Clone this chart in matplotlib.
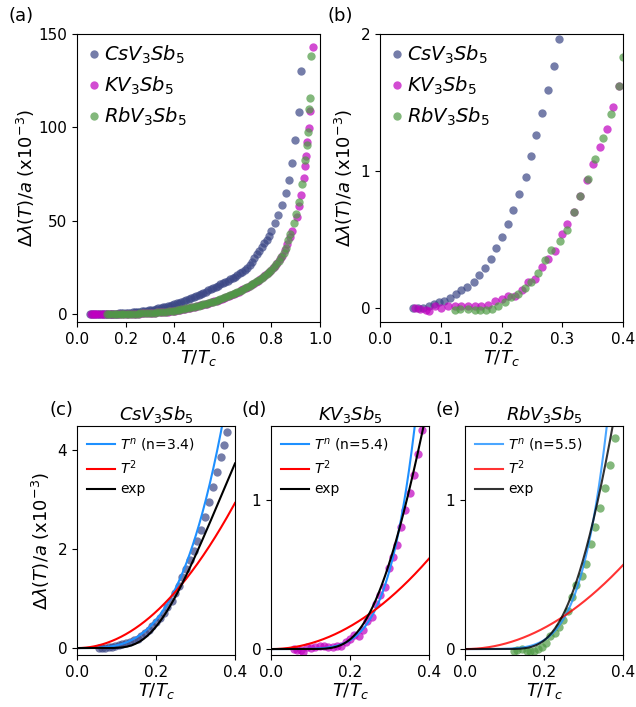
import numpy as np
import matplotlib
matplotlib.use('Agg')
import matplotlib.pyplot as plt

# ---- data (T/Tc, dlambda/a in units of 1e-3) ----
cs_t = [0.055, 0.063, 0.071, 0.081, 0.089, 0.097, 0.106, 0.115, 0.125, 0.134,
        0.144, 0.154, 0.163, 0.173, 0.182, 0.191, 0.201, 0.211, 0.219, 0.229,
        0.240, 0.248, 0.257, 0.267, 0.277, 0.287, 0.295,
        0.305, 0.315, 0.325, 0.335, 0.345, 0.355, 0.364, 0.373, 0.381, 0.39,
        0.40, 0.41, 0.42, 0.43, 0.44, 0.45, 0.46, 0.47, 0.48, 0.49,
        0.50, 0.51, 0.52, 0.53, 0.54, 0.55, 0.56, 0.57, 0.58, 0.59,
        0.60, 0.61, 0.62, 0.63, 0.64, 0.65, 0.66, 0.67, 0.68, 0.69,
        0.70, 0.71, 0.72, 0.73, 0.74, 0.75, 0.76, 0.77, 0.78, 0.79,
        0.80, 0.815, 0.828, 0.843, 0.859, 0.874, 0.884, 0.897, 0.914, 0.922]
cs_d = [0.0, 0.0, 0.005, 0.014, 0.029, 0.046, 0.054, 0.075, 0.102, 0.131,
        0.155, 0.19, 0.24, 0.296, 0.363, 0.443, 0.523, 0.611, 0.715, 0.832,
        0.958, 1.11, 1.26, 1.426, 1.59, 1.77, 1.96,
        2.15, 2.38, 2.65, 2.95, 3.25, 3.55, 3.85, 4.1, 4.36, 4.75,
        5.2, 5.65, 6.1, 6.6, 7.1, 7.6, 8.1, 8.6, 9.1, 9.7,
        10.3, 10.8, 11.4, 12.0, 12.6, 13.2, 13.8, 14.5, 15.1, 15.8,
        16.5, 17.2, 17.9, 18.6, 19.3, 20.0, 20.9, 21.8, 22.6, 23.5,
        24.5, 26.2, 28.1, 30.0, 32.0, 33.7, 35.9, 38.2, 39.8, 41.9,
        44.5, 48.7, 53.0, 58.4, 65.0, 72.0, 81.0, 93.0, 108.0, 130.0]

k_t = [0.057, 0.066, 0.075, 0.080, 0.091, 0.101, 0.112, 0.123, 0.134, 0.145,
       0.156, 0.167, 0.178, 0.189, 0.200, 0.211, 0.222, 0.233, 0.244, 0.255,
       0.266, 0.277, 0.288, 0.299, 0.308, 0.319, 0.330, 0.340, 0.351, 0.362,
       0.373, 0.383, 0.394,
       0.405, 0.415, 0.425, 0.435, 0.445, 0.455, 0.465, 0.475, 0.485, 0.495,
       0.505, 0.515, 0.525, 0.535, 0.545, 0.555, 0.565, 0.575, 0.585, 0.595,
       0.605, 0.615, 0.625, 0.635, 0.645, 0.655, 0.665, 0.675, 0.685, 0.695,
       0.705, 0.715, 0.725, 0.735, 0.745, 0.755, 0.765, 0.775, 0.785, 0.795,
       0.805, 0.815, 0.825, 0.835, 0.845, 0.855, 0.865, 0.875,
       0.886, 0.904, 0.915, 0.923, 0.934, 0.940, 0.942, 0.948, 0.953, 0.959, 0.970]
k_d = [0.0, -0.007, -0.009, -0.019, 0.015, 0.005, 0.015, 0.019, 0.019, 0.015,
       0.015, 0.019, 0.022, 0.05, 0.065, 0.093, 0.088, 0.131, 0.192, 0.217,
       0.302, 0.363, 0.418, 0.545, 0.618, 0.703, 0.818, 0.934, 1.049, 1.173,
       1.309, 1.47, 1.62,
       1.85, 2.1, 2.35, 2.6, 2.85, 3.1, 3.4, 3.7, 4.0, 4.3,
       4.6, 4.9, 5.25, 5.6, 6.0, 6.4, 6.8, 7.2, 7.7, 8.2,
       8.7, 9.2, 9.7, 10.2, 10.8, 11.4, 12.0, 12.7, 13.3, 14.0,
       14.7, 15.4, 16.2, 17.0, 17.9, 18.8, 19.8, 20.8, 21.9, 23.1,
       24.4, 25.8, 27.4, 29.2, 31.3, 34.5, 37.5, 41.0,
       44.2, 52.2, 58.0, 63.5, 72.6, 79.5, 84.6, 92.2, 99.5, 108.8, 142.9]

rb_t = [0.123, 0.132, 0.145, 0.156, 0.165, 0.175, 0.184, 0.195, 0.205, 0.215,
        0.227, 0.238, 0.249, 0.260, 0.271, 0.282, 0.296, 0.307, 0.319, 0.330,
        0.343, 0.354, 0.367, 0.380, 0.393, 0.400,
        0.41, 0.42, 0.43, 0.44, 0.45, 0.46, 0.47, 0.48, 0.49, 0.50,
        0.51, 0.52, 0.53, 0.54, 0.55, 0.56, 0.57, 0.58, 0.59, 0.60,
        0.61, 0.62, 0.63, 0.64, 0.65, 0.66, 0.67, 0.68, 0.69, 0.70,
        0.71, 0.72, 0.73, 0.74, 0.75, 0.76, 0.77, 0.78, 0.79, 0.80,
        0.81, 0.82, 0.83, 0.84, 0.85, 0.86, 0.87,
        0.877, 0.894, 0.901, 0.912, 0.926, 0.938, 0.948, 0.951, 0.955, 0.959, 0.965]
rb_d = [-0.01, -0.007, -0.002, -0.012, -0.01, -0.012, -0.002, 0.017, 0.043, 0.085,
        0.105, 0.15, 0.195, 0.255, 0.352, 0.428, 0.488, 0.572, 0.705, 0.818,
        0.946, 1.085, 1.24, 1.418, 1.618, 1.83,
        2.0, 2.25, 2.5, 2.75, 3.0, 3.3, 3.6, 3.9, 4.2, 4.5,
        4.8, 5.1, 5.45, 5.8, 6.2, 6.6, 7.0, 7.5, 8.0, 8.5,
        9.0, 9.5, 10.0, 10.5, 11.1, 11.7, 12.4, 13.0, 13.7, 14.4,
        15.1, 15.8, 16.6, 17.5, 18.4, 19.3, 20.3, 21.4, 22.5, 23.8,
        25.1, 26.6, 28.3, 30.3, 32.5, 35.5, 39.5,
        42.9, 48.6, 53.6, 60.2, 69.8, 82.3, 90.5, 97.7, 109.6, 115.5, 138.4]

names = [r'$CsV_3Sb_5$', r'$KV_3Sb_5$', r'$RbV_3Sb_5$']
colors = ['#3a4685', '#c000c0', '#4f9a45']

# fit parameters per compound: power law (A, n), T^2 prefactor, exp (C, gap)
pow_A = [135.0, 352.0, 420.0]
pow_n = [3.4, 5.4, 5.5]
sq_B = [18.3, 3.8, 3.53]
exp_C = [28.7, 32.3, 44.8]
exp_D = [1.0, 1.44, 1.534]

series = [(cs_t, cs_d), (k_t, k_d), (rb_t, rb_d)]

fig = plt.figure(figsize=(6.36, 7.07), dpi=100)
W, H = 636.0, 707.0

def box(l, t, r, b):
    return [l / W, 1 - b / H, (r - l) / W, (b - t) / H]

ax_a = fig.add_axes(box(77, 34, 320, 322))
ax_b = fig.add_axes(box(380, 34, 623, 322))
ax_c = fig.add_axes(box(77, 426, 235, 655))
ax_d = fig.add_axes(box(271, 426, 429, 655))
ax_e = fig.add_axes(box(465, 426, 623, 655))

ylab = r'$\Delta\lambda(T)/a$ (x10$^{-3}$)'
xlab = r'$T/T_c$'

for ax in (ax_a, ax_b):
    for (t, d), nm, c in zip(series, names, colors):
        ax.plot(t, d, 'o', ms=6, color=c, alpha=0.7, mec='none', label=nm)
    ax.set_xlabel(xlab, fontsize=13, labelpad=1)
    ax.tick_params(labelsize=11)
    ax.legend(loc='upper left', frameon=False, fontsize=14, handletextpad=0.2,
              borderaxespad=0.2, borderpad=0.3, labelspacing=0.45,
              handlelength=0.7)

ax_a.set_ylabel(ylab, fontsize=13, labelpad=1)
ax_b.set_ylabel(ylab, fontsize=13, labelpad=4)
ax_a.set_xlim(0, 1.0)
ax_a.set_ylim(-4.3, 150)
ax_a.set_xticks([0.0, 0.2, 0.4, 0.6, 0.8, 1.0])
ax_a.set_yticks([0, 50, 100, 150])
ax_b.set_xlim(0, 0.4)
ax_b.set_ylim(-0.1, 2)
ax_b.set_xticks([0.0, 0.1, 0.2, 0.3, 0.4])
ax_b.set_yticks([0, 1, 2])

fig.text(8 / W, 1 - 16 / H, '(a)', fontsize=13, va='center')
fig.text(327 / W, 1 - 16 / H, '(b)', fontsize=13, va='center')

tt = np.linspace(0.0005, 0.4, 300)
bottom_axes = [ax_c, ax_d, ax_e]
labels_p = ['(c)', '(d)', '(e)']
for i, ax in enumerate(bottom_axes):
    t, d = series[i]
    ax.plot(t, d, 'o', ms=6, color=colors[i], alpha=0.7, mec='none', zorder=1)
    a = 0.8 if i == 2 else 1.0
    ax.plot(tt, pow_A[i] * tt ** pow_n[i], color='#1e90ff', lw=1.5, alpha=a,
            label=r'$T^n$ (n=%.1f)' % pow_n[i], zorder=2)
    ax.plot(tt, sq_B[i] * tt ** 2, color='red', lw=1.5, alpha=a,
            label=r'$T^2$', zorder=2)
    ax.plot(tt, exp_C[i] * np.sqrt(exp_D[i] / tt) * np.exp(-exp_D[i] / tt),
            color='black', lw=1.5, alpha=a, label='exp', zorder=3)
    ax.set_xlim(0, 0.4)
    ax.set_xticks([0.0, 0.2, 0.4])
    ax.set_xlabel(xlab, fontsize=13, labelpad=1)
    ax.tick_params(labelsize=11)
    ax.set_title(names[i], fontsize=13, pad=4)
    ax.legend(loc='upper left', frameon=False, fontsize=10, handlelength=2.0,
              borderaxespad=0.3, labelspacing=0.4, handletextpad=0.4)
    pos = ax.get_position()
    fig.text(pos.x0 - 4 / W, pos.y1 + 16 / H, labels_p[i], fontsize=13,
             ha='right', va='center')

ax_c.set_ylim(-0.14, 4.48)
ax_c.set_yticks([0, 2, 4])
ax_c.set_ylabel(ylab, fontsize=13)
for ax in (ax_d, ax_e):
    ax.set_ylim(-0.04, 1.5)
    ax.set_yticks([0, 1])

fig.savefig('out.png', dpi=100)
